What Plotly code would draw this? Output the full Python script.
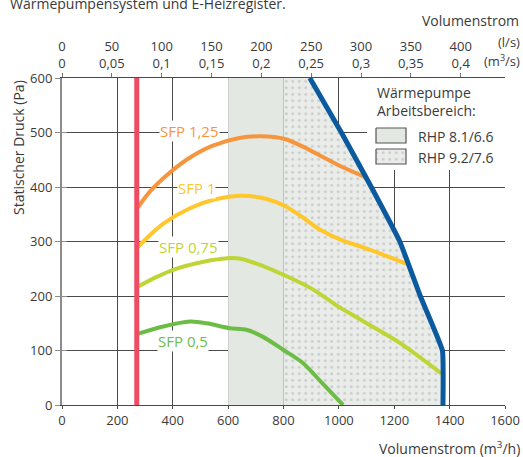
import plotly.graph_objects as go

# ---- data (m³/h vs Pa) ----
sfp125_x = [270, 318, 366, 450, 540, 640, 720, 805, 870, 1003, 1100]
sfp125_y = [360, 392, 416, 450, 475, 490, 493, 488, 474, 439, 417]

sfp1_x = [270, 318, 366, 462, 550, 650, 739, 805, 870, 931, 1003, 1111, 1250]
sfp1_y = [288, 312, 333, 361, 377, 384, 378, 365, 344, 322, 304, 285, 258]

sfp075_x = [270, 342, 402, 486, 570, 640, 726, 800, 900, 1000, 1050, 1100, 1220, 1370]
sfp075_y = [216, 235, 248, 260, 268, 269, 255, 239, 214, 180, 165, 150, 114, 58]

sfp05_x = [270, 366, 462, 522, 606, 666, 726, 800, 870, 940, 1015]
sfp05_y = [130, 144, 153, 150, 141, 138, 125, 101, 77, 40, 0]

min_flow_x = [270, 270]
min_flow_y = [0, 600]

max_x = [895, 1009, 1117, 1220, 1294, 1374, 1376]
max_y = [600, 500, 400, 300, 200, 100, 0]

rhp81_x = [600, 800, 800, 600, 600]
rhp81_y = [0, 0, 600, 600, 0]

x_ticks = [0, 200, 400, 600, 800, 1000, 1200, 1400, 1600]
y_ticks = [0, 100, 200, 300, 400, 500, 600]
ls_ticks = [0, 50, 100, 150, 200, 250, 300, 350, 400]
m3s_labels = ["0", "0,05", "0,1", "0,15", "0,2", "0,25", "0,3", "0,35", "0,4"]

labels = ["SFP 1,25", "SFP 1", "SFP 0,75", "SFP 0,5"]
label_x = [460, 484, 458, 438]
label_y = [503, 399, 290, 118]

FONT = "Open Sans"
TXT = "#3a3a3a"
GRID = "#4a4a4a"
C_ORANGE = "#F5963F"
C_YELLOW = "#FFC72C"
C_LGREEN = "#BED535"
C_GREEN = "#6CBD45"
C_RED = "#EF4B63"
C_BLUE = "#0B5A9E"
C_FILL = "#E3E8E2"
C_FILL2 = "#E9ECE8"
C_DOT = "#A9AEA9"

fig = go.Figure()

# working areas
fig.add_trace(go.Scatter(x=rhp81_x, y=rhp81_y, fill="toself", fillcolor=C_FILL,
                         mode="lines", line=dict(width=0), hoverinfo="skip", showlegend=False))
dot_x = [800, 800] + max_x + [800]
dot_y = [0, 600] + max_y + [0]
fig.add_trace(go.Scatter(x=dot_x, y=dot_y, fill="toself", mode="lines", line=dict(width=0),
                         fillpattern=dict(shape=".", bgcolor=C_FILL2, fgcolor=C_DOT,
                                          size=6.5, solidity=0.16),
                         hoverinfo="skip", showlegend=False))

for xs, ys, c in [(sfp125_x, sfp125_y, C_ORANGE), (sfp1_x, sfp1_y, C_YELLOW),
                  (sfp075_x, sfp075_y, C_LGREEN), (sfp05_x, sfp05_y, C_GREEN)]:
    fig.add_trace(go.Scatter(x=xs, y=ys, mode="lines",
                             line=dict(color=c, width=4, shape="spline", smoothing=0.8),
                             showlegend=False))

fig.add_trace(go.Scatter(x=min_flow_x, y=min_flow_y, mode="lines",
                         line=dict(color=C_RED, width=5), showlegend=False))
fig.add_trace(go.Scatter(x=max_x, y=max_y, mode="lines",
                         line=dict(color=C_BLUE, width=5, shape="spline", smoothing=0.3),
                         showlegend=False))

# carriers for the top axis and the inner tick axis
fig.add_trace(go.Scatter(x=[0], y=[0], xaxis="x2", mode="markers",
                         marker=dict(opacity=0), hoverinfo="skip", showlegend=False))
fig.add_trace(go.Scatter(x=[0], y=[0], yaxis="y4", mode="markers",
                         marker=dict(opacity=0), hoverinfo="skip", showlegend=False))

# legend box in its own axes (pixel-like units)
LX0, LX1, LY0, LY1 = 367, 505, 78, 170
fig.add_trace(go.Scatter(x=[LX0, LX1, LX1, LX0, LX0], y=[LY0, LY0, LY1, LY1, LY0],
                         xaxis="x3", yaxis="y3", fill="toself", fillcolor="white",
                         mode="lines", line=dict(width=0), hoverinfo="skip", showlegend=False))
fig.add_trace(go.Scatter(x=[376, 406, 406, 376, 376], y=[128, 128, 143, 143, 128],
                         xaxis="x3", yaxis="y3", fill="toself", fillcolor=C_FILL,
                         mode="lines", line=dict(width=1.2, color="#555"),
                         hoverinfo="skip", showlegend=False))
fig.add_trace(go.Scatter(x=[376, 406, 406, 376, 376], y=[149, 149, 164, 164, 149],
                         xaxis="x3", yaxis="y3", fill="toself",
                         fillpattern=dict(shape=".", bgcolor=C_FILL2, fgcolor=C_DOT,
                                          size=6.5, solidity=0.16),
                         mode="lines", line=dict(width=1.2, color="#555"),
                         hoverinfo="skip", showlegend=False))

ann = []
for t, xv, yv, c in zip(labels, label_x, label_y, [C_ORANGE, C_YELLOW, C_LGREEN, C_GREEN]):
    ann.append(dict(x=xv, y=yv, xref="x", yref="y", text=t, showarrow=False,
                    font=dict(family=FONT, size=15, color=c), bgcolor="white", borderpad=0))

ann += [
    dict(x=375, y=101.5, xref="x3", yref="y3", text="Wärmepumpe<br>Arbeitsbereich:",
         showarrow=False, xanchor="left", align="left",
         font=dict(family=FONT, size=14, color=TXT)),
    dict(x=416, y=136.5, xref="x3", yref="y3", text="RHP 8.1/6.6", showarrow=False,
         xanchor="left", font=dict(family=FONT, size=14, color=TXT)),
    dict(x=416, y=157.5, xref="x3", yref="y3", text="RHP 9.2/7.6", showarrow=False,
         xanchor="left", font=dict(family=FONT, size=14, color=TXT)),
]

W, H = 523, 457
ML, MR, MT, MB = 62, 18, 78, 52
pw, ph = W - ML - MR, H - MT - MB


def px(xp):
    return (xp - ML) / pw


def py(yp):
    return (H - MB - yp) / ph


ann += [
    dict(x=px(8), y=py(3), xref="paper", yref="paper", xanchor="left", yanchor="middle",
         text="Wärmepumpensystem und E-Heizregister.", showarrow=False,
         font=dict(family=FONT, size=14, color=TXT)),
    dict(x=px(521), y=py(20), xref="paper", yref="paper", xanchor="right", yanchor="middle",
         text="Volumenstrom", showarrow=False, font=dict(family=FONT, size=14, color=TXT)),
    dict(x=px(509), y=py(42), xref="paper", yref="paper", xanchor="center", yanchor="middle",
         text="(l/s)", showarrow=False, font=dict(family=FONT, size=13, color=TXT)),
    dict(x=px(502), y=py(60), xref="paper", yref="paper", xanchor="center", yanchor="middle",
         text="(m<sup>3</sup>/s)", showarrow=False, font=dict(family=FONT, size=13, color=TXT)),
    dict(x=px(522), y=py(448), xref="paper", yref="paper", xanchor="right", yanchor="middle",
         text="Volumenstrom (m<sup>3</sup>/h)", showarrow=False,
         font=dict(family=FONT, size=14, color=TXT)),
    dict(x=px(18), y=py(148), xref="paper", yref="paper", xanchor="center", yanchor="middle",
         text="Statischer Druck (Pa)", textangle=-90, showarrow=False,
         font=dict(family=FONT, size=14, color=TXT)),
]

fig.update_layout(
    width=W, height=H, margin=dict(l=ML, r=MR, t=MT, b=MB, autoexpand=False),
    paper_bgcolor="white", plot_bgcolor="white",
    font=dict(family=FONT, size=13, color=TXT),
    showlegend=False,
    xaxis=dict(range=[0, 1600], tickvals=x_ticks, showgrid=True, gridcolor=GRID, gridwidth=1,
               zeroline=False, showline=True, linecolor=GRID, linewidth=1, automargin=False,
               ticks="outside", ticklen=3, tickcolor=GRID, tickfont=dict(size=13)),
    yaxis=dict(range=[0, 600], tickvals=y_ticks, showgrid=True, gridcolor=GRID, gridwidth=1,
               zeroline=False, showline=True, linecolor="#8c8c8c", linewidth=2, automargin=False,
               ticks="outside", ticklen=5, tickcolor="#8c8c8c", tickfont=dict(size=13)),
    yaxis4=dict(overlaying="y", range=[0, 600], tickvals=y_ticks, showgrid=False,
                zeroline=False, showline=False, showticklabels=False, automargin=False,
                ticks="inside", ticklen=5, tickcolor="#8c8c8c"),
    xaxis2=dict(overlaying="x", side="top", range=[0, 1600 / 3.6], tickvals=ls_ticks,
                ticktext=[f"{a}<br>{b}" for a, b in zip(ls_ticks, m3s_labels)],
                showgrid=False, zeroline=False, showline=True, linecolor=GRID, linewidth=1,
                automargin=False, ticks="outside", ticklen=4, tickcolor="#777",
                tickfont=dict(size=13)),
    xaxis3=dict(domain=[px(LX0), px(LX1)], range=[LX0, LX1], visible=False, anchor="y3",
                automargin=False),
    yaxis3=dict(domain=[py(LY1), py(LY0)], range=[LY1, LY0], visible=False, anchor="x3",
                automargin=False),
    annotations=ann,
)

fig.write_html("out.html", config={"displayModeBar": False, "staticPlot": True},
               post_script="document.body.style.margin='0';")
